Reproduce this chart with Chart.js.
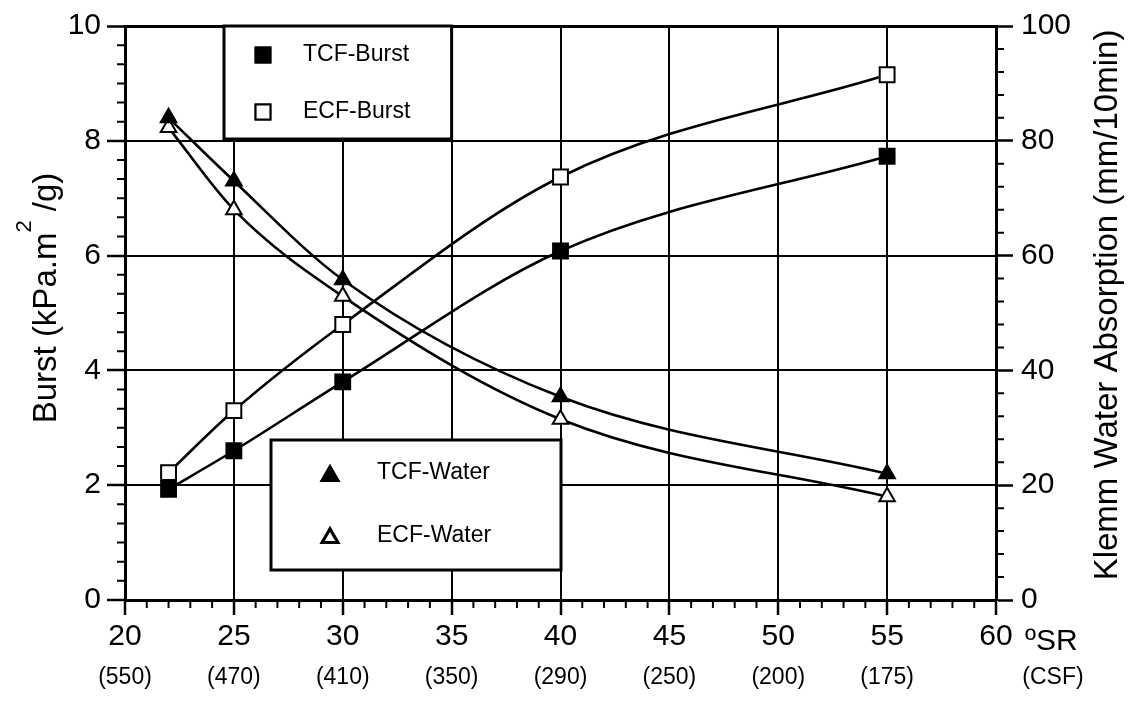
<!DOCTYPE html>
<html><head><meta charset="utf-8">
<script src="https://cdn.jsdelivr.net/npm/chart.js@4/dist/chart.umd.min.js"></script>
<style>html,body{margin:0;padding:0;background:#fff;}#wrap{width:1130px;height:705px;position:relative;}</style>
</head><body><div id="wrap"><canvas id="c" width="1130" height="705"></canvas></div>
<script>
// ---- data ----
const srValues   = [22, 25, 30, 40, 55];
const tcfBurst   = [1.93, 2.6, 3.8, 6.08, 7.73];
const ecfBurst   = [2.22, 3.3, 4.8, 7.37, 9.15];
const tcfWater   = [84, 73, 55.8, 35.4, 22];
const ecfWater   = [82.3, 68, 52.9, 31.5, 18];
const csfTickValues = [20, 25, 30, 35, 40, 45, 50, 55];
const csfLabels  = ['(550)', '(470)', '(410)', '(350)', '(290)', '(250)', '(200)', '(175)'];
const seriesNames = ['TCF-Burst', 'ECF-Burst', 'TCF-Water', 'ECF-Water'];

const FONT = '"Liberation Sans", Arial, Helvetica, sans-serif';
const pts = (xs, ys) => xs.map((x, i) => ({x: x, y: ys[i]}));

function mkDs(label, data, axis, style, filled) {
  return {
    label: label, data: data, yAxisID: axis,
    borderColor: '#000', borderWidth: 2.6,
    backgroundColor: '#000',
    pointStyle: style,
    pointRadius: style === 'rect' ? 10.5 : 9,
    pointHoverRadius: style === 'rect' ? 10.5 : 9,
    pointBackgroundColor: filled ? '#000' : '#fff',
    pointBorderColor: '#000', pointBorderWidth: 2,
    cubicInterpolationMode: 'monotone', fill: false, clip: false
  };
}

const extras = {
  id: 'extras',
  afterDatasetsDraw(chart) {
    const ctx = chart.ctx, a = chart.chartArea;
    const xs = chart.scales.x, ys = chart.scales.y, y2 = chart.scales.y2;
    ctx.save();
    ctx.strokeStyle = '#000'; ctx.fillStyle = '#000';
    // minor ticks
    ctx.lineWidth = 2;
    ctx.beginPath();
    for (let v = 20; v <= 60; v++) if (v % 5) {
      const px = xs.getPixelForValue(v);
      ctx.moveTo(px, a.bottom); ctx.lineTo(px, a.bottom + 8);
    }
    for (let i = 0; i <= 30; i++) if (i % 6) {
      const py = ys.getPixelForValue(i / 3);
      ctx.moveTo(a.left - 8, py); ctx.lineTo(a.left, py);
    }
    for (let v = 0; v <= 100; v += 4) if (v % 20) {
      const py = y2.getPixelForValue(v);
      ctx.moveTo(a.right, py); ctx.lineTo(a.right + 8, py);
    }
    ctx.stroke();

    // legend boxes
    const box = (x1, y1, x2, y2b) => {
      ctx.fillStyle = '#fff'; ctx.fillRect(x1, y1, x2 - x1, y2b - y1);
      ctx.lineWidth = 3; ctx.strokeStyle = '#000'; ctx.strokeRect(x1, y1, x2 - x1, y2b - y1);
    };
    const mark = (style, filled, x, y, r) => {
      ctx.fillStyle = filled ? '#000' : '#fff'; ctx.strokeStyle = '#000';
      Chart.helpers.drawPoint(ctx, {pointStyle: style, radius: r, rotation: 0, borderWidth: 2}, x, y);
      ctx.fill(); ctx.stroke();
    };
    const bx1 = xs.getPixelForValue(20) + 99;
    box(bx1, a.top, xs.getPixelForValue(35), a.top + 113);
    ctx.lineWidth = 2;
    mark('rect', true, bx1 + 39, a.top + 29, 10.5);
    mark('rect', false, bx1 + 39, a.top + 86, 10.5);
    ctx.fillStyle = '#000'; ctx.font = '23px ' + FONT; ctx.textBaseline = 'middle'; ctx.textAlign = 'left';
    ctx.fillText(seriesNames[0], bx1 + 79, a.top + 29);
    ctx.fillText(seriesNames[1], bx1 + 79, a.top + 86);

    box(271, 440, 561, 570);
    mark('triangle', true, 330, 476, 9);
    mark('triangle', false, 330, 538, 9);
    ctx.fillStyle = '#000'; ctx.font = '23px ' + FONT;
    ctx.fillText(seriesNames[2], 377, 473);
    ctx.fillText(seriesNames[3], 377, 536);

    // secondary x labels (CSF)
    ctx.font = '23px ' + FONT; ctx.textAlign = 'center'; ctx.textBaseline = 'middle';
    csfTickValues.forEach((v, i) => ctx.fillText(csfLabels[i], xs.getPixelForValue(v), 678));
    ctx.fillText('(CSF)', 1053, 678);
    ctx.font = '30px ' + FONT;
    ctx.textAlign = 'left';
    ctx.fillText('ºSR', 1025, 642);

    // left title with superscript
    ctx.save();
    ctx.translate(44, 298); ctx.rotate(-Math.PI / 2);
    ctx.font = '33px ' + FONT;
    const p1 = 'Burst (kPa.m', p3 = ' /g)';
    const w1 = ctx.measureText(p1).width, w3 = ctx.measureText(p3).width;
    ctx.font = '22px ' + FONT;
    const w2 = ctx.measureText('2').width;
    const tot = w1 + w2 + w3;
    let x0 = -tot / 2;
    ctx.textAlign = 'left'; ctx.textBaseline = 'alphabetic';
    ctx.font = '33px ' + FONT; ctx.fillText(p1, x0, 12);
    ctx.font = '22px ' + FONT; ctx.fillText('2', x0 + w1, -13);
    ctx.font = '33px ' + FONT; ctx.fillText(p3, x0 + w1 + w2, 12);
    ctx.restore();

    // right title
    ctx.save();
    ctx.translate(1108, 305); ctx.rotate(-Math.PI / 2);
    ctx.font = '33px ' + FONT; ctx.textAlign = 'center'; ctx.textBaseline = 'middle';
    ctx.fillText('Klemm Water Absorption (mm/10min)', 0, 0);
    ctx.restore();
    ctx.restore();
  }
};

new Chart(document.getElementById('c'), {
  type: 'line',
  data: {
    datasets: [
      mkDs(seriesNames[0], pts(srValues, tcfBurst), 'y', 'rect', true),
      mkDs(seriesNames[1], pts(srValues, ecfBurst), 'y', 'rect', false),
      mkDs(seriesNames[2], pts(srValues, tcfWater), 'y2', 'triangle', true),
      mkDs(seriesNames[3], pts(srValues, ecfWater), 'y2', 'triangle', false)
    ]
  },
  options: {
    responsive: false, animation: false,
    layout: {padding: {top: 21, left: 0, right: 0, bottom: 0}},
    plugins: {legend: {display: false}, tooltip: {enabled: false}, title: {display: false}},
    scales: {
      x: {
        type: 'linear', min: 20, max: 60,
        afterFit(s) { s.height = 105; },
        ticks: {stepSize: 5, color: '#000', font: {family: FONT, size: 30}, padding: 4, maxRotation: 0},
        grid: {color: '#000', lineWidth: 2, tickLength: 15, tickWidth: 2.5},
        border: {color: '#000', width: 3}
      },
      y: {
        position: 'left', min: 0, max: 10,
        afterFit(s) { s.width = 125; },
        ticks: {stepSize: 2, color: '#000', font: {family: FONT, size: 30}, padding: 6},
        grid: {color: '#000', lineWidth: (c) => (c.tick && c.tick.value === 10 ? 3 : 2), tickLength: 18, tickWidth: 2.5},
        border: {color: '#000', width: 3}
      },
      y2: {
        position: 'right', min: 0, max: 100,
        afterFit(s) { s.width = 134; },
        ticks: {stepSize: 20, color: '#000', font: {family: FONT, size: 30}, padding: 8},
        grid: {color: '#000', drawOnChartArea: false, tickLength: 17, tickWidth: 2.5},
        border: {color: '#000', width: 3}
      }
    }
  },
  plugins: [extras]
});
</script></body></html>
